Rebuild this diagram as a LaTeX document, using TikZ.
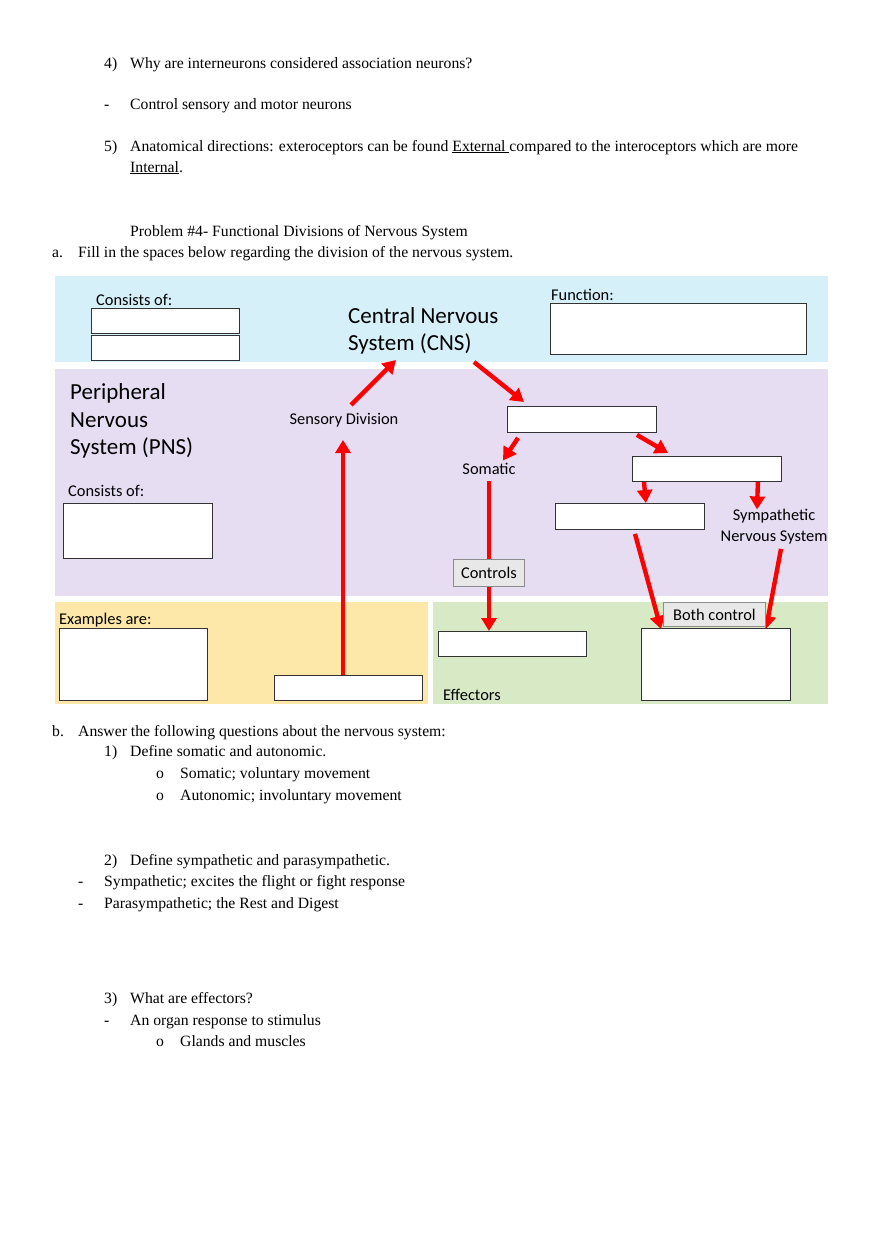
\documentclass[tikz,border=0pt]{standalone}
\usepackage{fontspec}
\setmainfont{Liberation Serif}
\newfontfamily\calfont{Carlito}
\usetikzlibrary{arrows.meta,calc}
\definecolor{bluep}{HTML}{D6F0FA}
\definecolor{purplep}{HTML}{E7DDF3}
\definecolor{yellowp}{HTML}{FDE8A9}
\definecolor{greenp}{HTML}{D7EAC5}
\definecolor{redarr}{HTML}{FF0000}
\begin{document}
\begin{tikzpicture}[x=1pt,y=-1pt,
  txt/.style={anchor=base west, inner sep=0pt, font=\fontsize{15.7}{18}\selectfont},
  lbl/.style={anchor=base west, inner sep=0pt, font=\calfont\fontsize{16.4}{19}\selectfont},
  biglbl/.style={anchor=base west, inner sep=0pt, font=\calfont\fontsize{23}{27}\selectfont},
  blank/.style={draw=black!80, line width=0.9pt, fill=white, anchor=north west, inner sep=0pt},
  graybox/.style={draw=black!45, line width=0.8pt, fill=black!9, anchor=north west, inner sep=0pt, font=\calfont\fontsize{16.4}{19}\selectfont},
  redarrow/.style={draw=redarr, line width=4.4pt, -{Triangle[width=15pt,length=13pt]}},
  ]
\useasboundingbox (0,0) rectangle (880,1247);
\fill[white] (0,0) rectangle (880,1247);

% ---- top text ----
\node[txt] (q4n) at (104,68) {4)};
\node[txt] (q4) at (130,68) {Why are interneurons considered association neurons?};
\node[txt] (a4d) at (104,109) {-};
\node[txt] (a4) at (130,109) {Control sensory and motor neurons};
\node[txt] (q5n) at (104,151) {5)};
\node[txt] (q5) at (130,151) {Anatomical directions: exteroceptors can be found \underline{External\ }compared to the interoceptors which are more};
\node[txt] (q5b) at (130,172) {\underline{Internal}.};
\node[txt] (prob) at (130,236) {Problem \#4- Functional Divisions of Nervous System};
\node[txt] (an) at (52,257) {a.};
\node[txt] (aq) at (78,257) {Fill in the spaces below regarding the division of the nervous system.};

% ---- panels ----
\fill[bluep] (55,276) rectangle (828,362);
\fill[purplep] (55,369) rectangle (828,596);
\fill[yellowp] (55,602) rectangle (428,704);
\fill[greenp] (433,602) rectangle (828,704);

% ---- CNS panel ----
\node[lbl] (cnscons) at (96,305) {Consists of:};
\node[blank, minimum width=148, minimum height=25] (cbox1) at (91,308) {};
\node[blank, minimum width=148, minimum height=25] (cbox2) at (91,335) {};
\node[biglbl] (cns1) at (348,323) {Central Nervous};
\node[biglbl] (cns2) at (348,350) {System (CNS)};
\node[lbl] (func) at (551,300) {Function:};
\node[blank, minimum width=256, minimum height=51] (fbox) at (550,303) {};

% ---- PNS panel ----
\node[biglbl] (pns1) at (70,399) {Peripheral};
\node[biglbl] (pns2) at (70,427) {Nervous};
\node[biglbl] (pns3) at (70,454) {System (PNS)};
\node[lbl] (pnscons) at (68,496) {Consists of:};
\node[blank, minimum width=149, minimum height=55] (pbox) at (63,503) {};
\node[lbl, anchor=base] (sens) at (344,424) {Sensory Division};
\node[blank, minimum width=149, minimum height=26] (box1) at (507,406) {};
\node[lbl, anchor=base] (som) at (489,474) {Somatic};
\node[blank, minimum width=149, minimum height=25] (box2) at (632,456) {};
\node[blank, minimum width=149, minimum height=26] (box3) at (555,503) {};
\node[lbl, anchor=base] (symp1) at (774,520) {Sympathetic};
\node[lbl, anchor=base] (symp2) at (774,541) {Nervous System};

% ---- bottom panels ----
\node[lbl] (ex) at (59,624) {Examples are:};
\node[blank, minimum width=148, minimum height=72] (exbox) at (59,628) {};
\node[blank, minimum width=148, minimum height=25] (sbox) at (274,675) {};
\node[blank, minimum width=148, minimum height=25] (ebox1) at (438,631) {};
\node[blank, minimum width=149, minimum height=72] (ebox2) at (641,628) {};
\node[lbl] (eff) at (443,700) {Effectors};

% ---- connectors ----
\coordinate (sensbot) at (343,440);
\coordinate (senstop) at (351,405);
\coordinate (cnstip) at (396,360);
\coordinate (cnsout) at (474,362);
\draw[redarrow] (sbox.north -| sensbot) -- (sensbot);
\draw[redarrow] (senstop) -- (cnstip);
\draw[redarrow] (cnsout) -- ($(box1.north west)+(17,-4)$);
\draw[redarrow] ($(box1.south west)+(11,5)$) -- ($(som.north)+(14,-2)$);
\draw[redarrow] ($(box1.south east)+(-20,2)$) -- ($(box2.north west)+(36,-3)$);
\draw[redarrow] ($(box2.south west)+(12,0)$) -- ($(box3.north east)+(-59,0)$);
\draw[redarrow] ($(box2.south east)+(-24,0)$) -- ($(symp1.north)+(-17,1)$);
\draw[redarrow] ($(som.south)+(0,7)$) -- (ebox1.north -| som.south);
\draw[redarrow] ($(box3.south west)+(80,4)$) -- ($(ebox2.north west)+(20,1)$);
\draw[redarrow] ($(symp2.south)+(7,5)$) -- ($(ebox2.north east)+(-25,1)$);

% ---- label boxes on top ----
\node[graybox, minimum width=71, minimum height=27] (ctrl) at (453,559) {Controls};
\node[graybox, minimum width=102, minimum height=24] (both) at (663,602) {Both control};

% ---- bottom text ----
\node[txt] (bn) at (52,736) {b.};
\node[txt] (bq) at (78,736) {Answer the following questions about the nervous system:};
\node[txt] (q1n) at (104,756) {1)};
\node[txt] (q1) at (130,756) {Define somatic and autonomic.};
\node[txt] (o1) at (156,778) {o};
\node[txt] (a1a) at (180,778) {Somatic; voluntary movement};
\node[txt] (o2) at (156,800) {o};
\node[txt] (a1b) at (180,800) {Autonomic; involuntary movement};
\node[txt] (q2n) at (104,865) {2)};
\node[txt] (q2) at (130,865) {Define sympathetic and parasympathetic.};
\node[txt] (d1) at (78,886) {-};
\node[txt] (a2a) at (104,886) {Sympathetic; excites the flight or fight response};
\node[txt] (d2) at (78,908) {-};
\node[txt] (a2b) at (104,908) {Parasympathetic; the Rest and Digest};
\node[txt] (q3n) at (104,1003) {3)};
\node[txt] (q3) at (130,1003) {What are effectors?};
\node[txt] (d3) at (104,1025) {-};
\node[txt] (a3) at (130,1025) {An organ response to stimulus};
\node[txt] (o3) at (156,1046) {o};
\node[txt] (a3b) at (180,1046) {Glands and muscles};
\end{tikzpicture}
\end{document}
